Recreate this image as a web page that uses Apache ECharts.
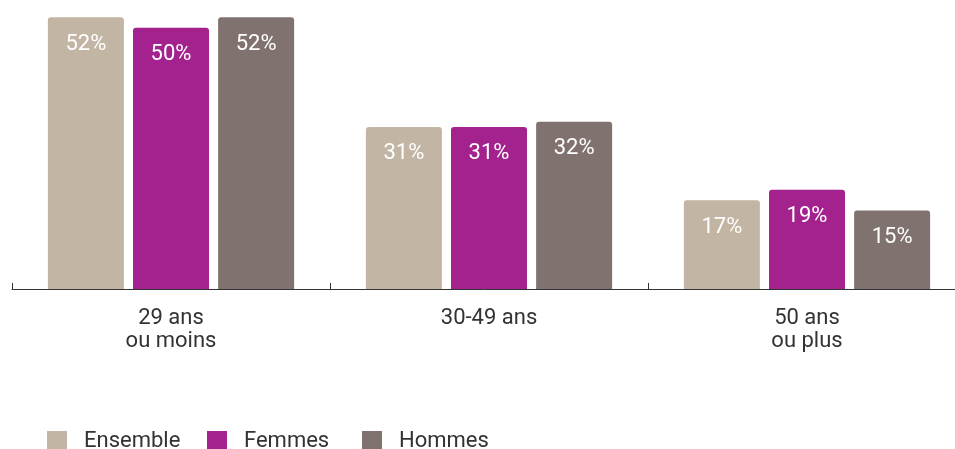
<!DOCTYPE html>
<html><head><meta charset="utf-8">
<script src="https://cdn.jsdelivr.net/npm/echarts@6/dist/echarts.min.js"></script>
<style>html,body{margin:0;padding:0;background:#fff}#c{width:955px;height:449px}</style>
</head><body><div id="c"></div>
<script>
const categories = ['29 ans\nou moins', '30-49 ans', '50 ans\nou plus'];
const ensemble = [52, 31, 17];
const femmes = [50, 31, 19];
const hommes = [52, 32, 15];
const seriesNames = ['Ensemble', 'Femmes', 'Hommes'];
const colors = ['#c2b5a3', '#a3228d', '#80736f'];

const chart = echarts.init(document.getElementById('c'));
const font = 'Roboto, "DejaVu Sans", sans-serif';
const legendLeft = [47, 207, 362];
function mk(name, data, color) {
  return {
    name, type: 'bar', data, barWidth: 76, barGap: '12%',
    itemStyle: { color, borderRadius: [3, 3, 0, 0] },
    label: { show: true, position: 'insideTop', distance: 16, color: '#fff',
      fontSize: 22, fontFamily: font, formatter: '{c}%' }
  };
}
chart.setOption({
  animation: false,
  color: colors,
  grid: { left: 12, width: 954, top: 1.5, height: 287.5, outerBoundsMode: 'none', containLabel: false },
  legend: seriesNames.map((n, i) => ({
    left: legendLeft[i], top: 430, itemWidth: 20, itemHeight: 20,
    icon: 'rect', padding: 0,
    textStyle: { fontSize: 22, color: '#333', fontFamily: font, padding: [0, 0, 0, 12] },
    data: [n]
  })),
  xAxis: {
    type: 'category', data: categories,
    axisLine: { lineStyle: { color: '#333', width: 1 } },
    axisTick: { show: true, inside: true, length: 6, lineStyle: { color: '#333' } },
    axisLabel: { color: '#333', fontSize: 22, fontFamily: font, margin: 18, lineHeight: 23 }
  },
  yAxis: { type: 'value', min: 0, max: 55, show: false, splitLine: { show: false } },
  series: [mk(seriesNames[0], ensemble, colors[0]), mk(seriesNames[1], femmes, colors[1]), mk(seriesNames[2], hommes, colors[2])]
});
</script></body></html>
